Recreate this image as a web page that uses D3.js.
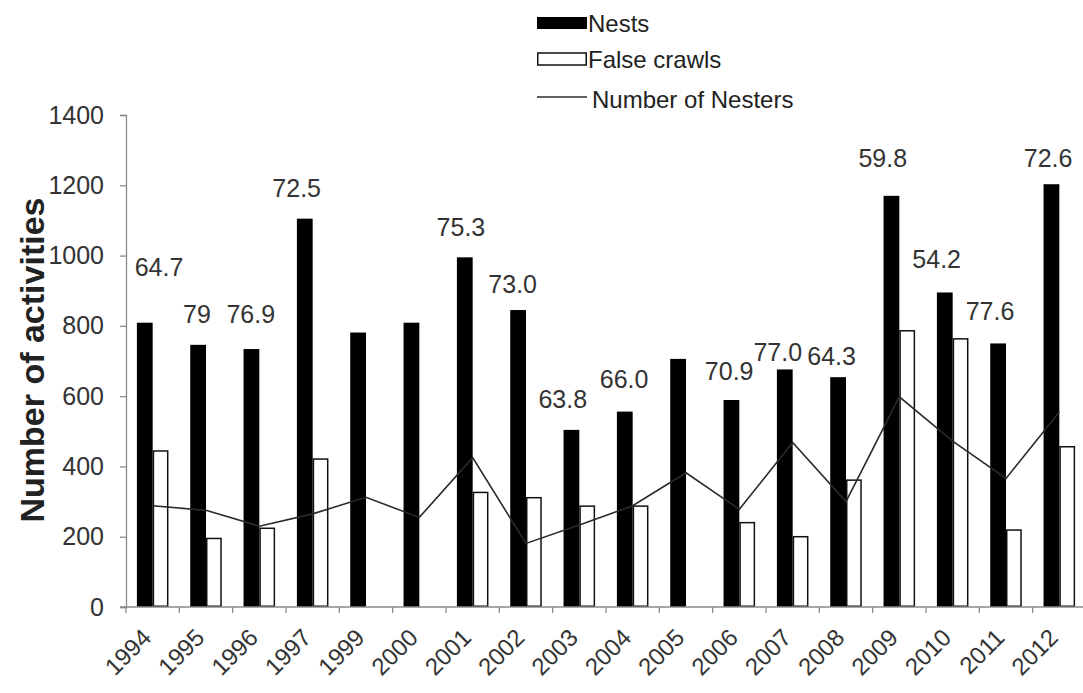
<!DOCTYPE html>
<html>
<head>
<meta charset="utf-8">
<script src="https://cdn.jsdelivr.net/npm/d3@7/dist/d3.min.js"></script>
<style>
  html, body { margin: 0; padding: 0; background: #fff; }
  svg { display: block; font-family: Arial, "Liberation Sans", sans-serif; }
</style>
</head>
<body>
<svg id="chart" width="1083" height="693"></svg>
<script>
// ---- data ----
const years = ["1994","1995","1996","1997","1999","2000","2001","2002","2003","2004","2005","2006","2007","2008","2009","2010","2011","2012"];
const nests = [809, 746, 734, 1105, 781, 809, 995, 845, 504, 556, 706, 589, 676, 654, 1170, 895, 750, 1203];
const falseCrawls = [444, 195, 224, 421, null, null, 326, 311, 287, 287, null, 240, 200, 361, 786, 763, 219, 456];
const nesters = [288, 275, 230, 265, 312, 255, 425, 181, 233, 288, 382, 278, 468, 300, 598, 472, 366, 555];
const yTicks = [0, 200, 400, 600, 800, 1000, 1200, 1400];
// annotation labels (text, year, level in data units, horizontal shift in band widths)
const labelYears  = ["1994","1995","1996","1997","2001","2002","2003","2004","2006","2007","2008","2009","2010","2011","2012"];
const labelTexts  = ["64.7","79","76.9","72.5","75.3","73.0","63.8","66.0","70.9","77.0","64.3","59.8","54.2","77.6","72.6"];
const labelLevels = [967, 834, 834, 1192, 1080, 918, 592, 649, 672, 726, 714, 1279, 990, 842, 1278];
const labelShift  = [0.12, -0.17, -0.16, -0.30, -0.22, -0.25, -0.31, -0.16, -0.19, -0.28, -0.27, -0.31, -0.30, -0.30, -0.21];
const legendNames = ["Nests", "False crawls", "Number of Nesters"];

// ---- chart ----
const svg = d3.select("#chart");
const x = d3.scaleBand().domain(years).range([126, 1086]).paddingInner(0).paddingOuter(0);
const sub = d3.scaleBand().domain(["n", "f"]).range([0, x.bandwidth()]).paddingInner(0).paddingOuter(0.69);
const y = d3.scaleLinear().domain([0, 1400]).range([607, 115]);
const bw = x.bandwidth();

// bars: nests
svg.append("g").selectAll("rect").data(years).join("rect")
  .attr("x", (d) => x(d) + sub("n"))
  .attr("width", sub.bandwidth())
  .attr("y", (d, i) => y(nests[i]))
  .attr("height", (d, i) => y(0) - y(nests[i]))
  .attr("fill", "#000");

// bars: false crawls
svg.append("g").selectAll("rect").data(years.filter((d, i) => falseCrawls[i] != null)).join("rect")
  .attr("x", (d) => x(d) + sub("f") + 0.75)
  .attr("width", sub.bandwidth() - 1.5)
  .attr("y", (d) => y(falseCrawls[years.indexOf(d)]))
  .attr("height", (d) => y(0) - y(falseCrawls[years.indexOf(d)]) - 0.75)
  .attr("fill", "#fff")
  .attr("stroke", "#111")
  .attr("stroke-width", 1.5);

// line: number of nesters
const line = d3.line().x((d, i) => x(years[i]) + bw / 2).y((d) => y(d));
svg.append("path").datum(nesters)
  .attr("d", line)
  .attr("fill", "none")
  .attr("stroke", "#2a2a2a")
  .attr("stroke-width", 1.6);

// y axis
const yAxis = svg.append("g").attr("transform", "translate(126,0)")
  .call(d3.axisLeft(y).tickValues(yTicks).tickSize(6).tickPadding(16).tickFormat(d3.format("d")));
yAxis.select(".domain").attr("stroke", "#8a8a8a").attr("stroke-width", 1.3);
yAxis.selectAll(".tick line").attr("stroke", "#8a8a8a").attr("stroke-width", 1.3);
yAxis.selectAll(".tick text").attr("font-size", 25).attr("fill", "#333")
  .attr("font-family", "Arial, 'Liberation Sans', sans-serif");

// x axis (ticks at band boundaries)
const xAxisG = svg.append("g").attr("transform", "translate(0,607)");
xAxisG.append("line").attr("x1", 120).attr("x2", x.range()[1]).attr("y1", 0).attr("y2", 0)
  .attr("stroke", "#8a8a8a").attr("stroke-width", 1.3);
xAxisG.selectAll("line.tk").data(years.concat(["end"])).join("line").attr("class", "tk")
  .attr("x1", (d, i) => x.range()[0] + i * x.step())
  .attr("x2", (d, i) => x.range()[0] + i * x.step())
  .attr("y1", 0).attr("y2", 6)
  .attr("stroke", "#8a8a8a").attr("stroke-width", 1.3);
xAxisG.selectAll("text").data(years).join("text")
  .attr("transform", (d) => `translate(${x(d) + bw / 2},32) rotate(-45)`)
  .attr("text-anchor", "end")
  .attr("font-size", 24)
  .attr("fill", "#333")
  .text((d) => d);

// y axis title
svg.append("text")
  .attr("transform", "translate(44,360) rotate(-90)")
  .attr("text-anchor", "middle")
  .attr("font-size", 34)
  .attr("font-weight", "bold")
  .attr("fill", "#222")
  .text("Number of activities");

// value labels
svg.append("g").selectAll("text").data(labelYears).join("text")
  .attr("x", (d, i) => x(d) + bw / 2 + labelShift[i] * bw)
  .attr("y", (d, i) => y(labelLevels[i]))
  .attr("dy", "0.36em")
  .attr("text-anchor", "middle")
  .attr("font-size", 25)
  .attr("fill", "#333")
  .text((d, i) => labelTexts[i]);

// legend
const lg = svg.append("g").attr("transform", "translate(537,0)");
lg.append("rect").attr("x", 0).attr("y", 17).attr("width", 50).attr("height", 12).attr("fill", "#000");
lg.append("rect").attr("x", 0.75).attr("y", 53).attr("width", 48.5).attr("height", 12)
  .attr("fill", "#fff").attr("stroke", "#111").attr("stroke-width", 1.5);
lg.append("line").attr("x1", 0).attr("x2", 50).attr("y1", 97).attr("y2", 97)
  .attr("stroke", "#2a2a2a").attr("stroke-width", 1.6);
const legY = [23, 59, 99];
lg.selectAll("text").data(legendNames).join("text")
  .attr("x", (d, i) => i === 2 ? 55 : 51)
  .attr("y", (d, i) => legY[i])
  .attr("dy", "0.36em")
  .attr("font-size", 24)
  .attr("fill", "#222")
  .text((d) => d);
</script>
</body>
</html>
